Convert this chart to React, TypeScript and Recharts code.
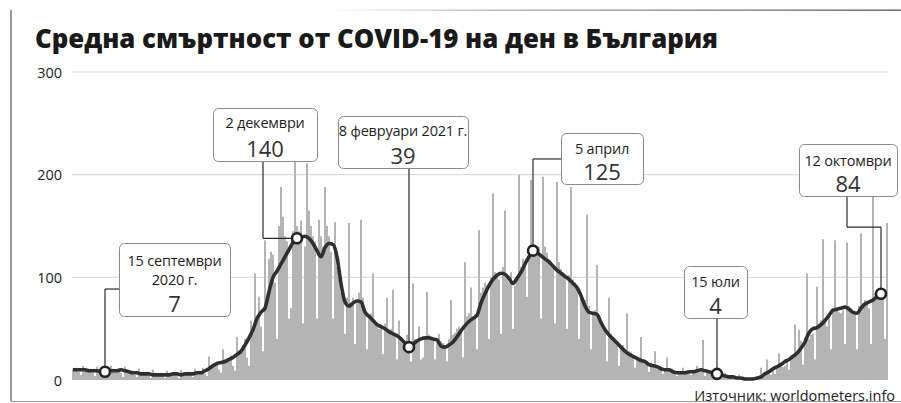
import React from 'react';
import {
  ComposedChart,
  Bar,
  Line,
  XAxis,
  YAxis,
  CartesianGrid,
  ReferenceDot,
  ReferenceLine,
} from 'recharts';

// Daily deaths (bars), read week by week from the picture
const deathsAutumn = [
  11, 9, 12, 8, 5, 14, 10,
  10, 8, 11, 7, 4, 13, 9,
  9, 10, 8, 6, 4, 14, 11,
  10, 9, 11, 7, 3, 13, 10,
  8, 7, 9, 5, 3, 11, 8,
  7, 6, 8, 4, 2, 10, 7,
  6, 5, 7, 4, 2, 9, 6,
  6, 7, 5, 4, 2, 10, 7,
  7, 6, 8, 5, 3, 11, 8,
  9, 8, 12, 6, 4, 23, 13,
  14, 16, 18, 10, 7, 30, 20,
  20, 22, 24, 14, 9, 42, 28,
  30, 34, 40, 22, 14, 58, 45,
];
const deathsWinter = [
  104, 58, 81, 52, 28, 136, 72,
  118, 125, 122, 95, 40, 150, 188,
  159, 140, 135, 60, 70, 145, 217,
  150, 145, 155, 55, 130, 211, 165,
  150, 140, 135, 60, 156, 140, 130,
  188, 150, 140, 125, 60, 154, 110,
  100, 85, 80, 45, 80, 153, 75,
  80, 35, 75, 85, 156, 80, 70,
  30, 60, 65, 104, 58, 55, 50,
  52, 25, 55, 80, 48, 50, 88,
  45, 20, 58, 42, 40, 38, 44,
  30, 18, 94, 40, 38, 52, 20,
  22, 42, 86, 44, 40, 38, 20,
  40, 45, 38, 36, 32, 18, 40,
  78, 44, 46, 50, 52, 48, 22,
];
const deathsSpring = [
  115, 62, 65, 90, 60, 64, 30,
  146, 85, 90, 95, 92, 40, 100,
  182, 105, 100, 98, 45, 110, 165,
  100, 95, 105, 50, 92, 100, 200,
  110, 118, 115, 81, 120, 195, 125,
  128, 125, 130, 60, 198, 130, 124,
  118, 115, 112, 55, 193, 115, 108,
  105, 100, 50, 102, 188, 98, 95,
  90, 40, 85, 80, 78, 161, 72,
  30, 65, 68, 112, 60, 58, 55,
  50, 18, 80, 45, 42, 40, 38,
  14, 32, 34, 30, 65, 28, 27,
  24, 12, 22, 20, 42, 19, 18,
  16, 8, 17, 15, 28, 14, 13,
  12, 6, 11, 22, 10, 10, 9,
];
const deathsSummerAutumn = [
  8, 4, 8, 7, 12, 7, 6,
  9, 5, 10, 8, 14, 9, 8,
  39, 4, 9, 7, 8, 6, 7,
  5, 2, 4, 3, 7, 4, 3,
  3, 1, 3, 2, 5, 2, 2,
  2, 1, 2, 1, 3, 1, 2,
  3, 12, 4, 5, 20, 6, 5,
  10, 6, 14, 26, 15, 13, 14,
  20, 10, 24, 22, 54, 25, 49,
  38, 15, 42, 104, 40, 44, 45,
  20, 91, 55, 58, 137, 56, 52,
  62, 30, 68, 136, 70, 66, 65,
  68, 35, 134, 72, 70, 65, 64,
  30, 72, 143, 75, 78, 76, 70,
  35, 183, 85, 88, 84, 80, 86,
  40, 153,
];
const deaths = [...deathsAutumn, ...deathsWinter, ...deathsSpring, ...deathsSummerAutumn];

// 7-day average, read every second day
const avg7 = [
  10, 10, 10, 10, 9, 9, 9, 8, 8, 9,
  9, 9, 10, 9, 8, 7, 7, 6, 6, 6,
  5, 5, 5, 5, 5, 6, 6, 5, 6, 6,
  6, 7, 7, 9, 11, 14, 16, 17, 18, 20,
  22, 25, 28, 34, 41, 49, 60, 66, 70, 86,
  100, 106, 113, 120, 127, 134, 138, 139, 140, 138,
  133, 126, 120, 129, 133, 132, 120, 94, 76, 72,
  75, 77, 76, 66, 62, 58, 54, 52, 50, 47,
  45, 43, 40, 36, 32, 35, 38, 40, 41, 41,
  40, 39, 33, 32, 34, 37, 42, 48, 53, 57,
  60, 63, 75, 84, 92, 98, 102, 104, 103, 99,
  94, 99, 105, 113, 120, 126, 124, 121, 118, 115,
  111, 107, 104, 101, 98, 94, 90, 82, 72, 66,
  65, 64, 56, 49, 44, 40, 36, 32, 28, 25,
  23, 21, 19, 18, 15, 14, 13, 11, 10, 10,
  8, 7, 7, 7, 8, 8, 9, 10, 9, 8,
  7, 6, 5, 4, 3, 3, 2, 2, 1, 1,
  1, 2, 3, 6, 8, 11, 13, 15, 18, 20,
  23, 26, 31, 37, 46, 50, 51, 54, 58, 63,
  68, 69, 70, 71, 69, 66, 65, 70, 74, 76,
  78, 81, 84, 85,
];

const yTicks = [0, 100, 200, 300];
const gridValues = [100, 200, 300];

// Highlighted days (day index, value on the average line)
const markDays = [16, 112, 168, 230, 322, 404];
const markValues = [8, 138, 32, 126, 6, 84];
const markDates = [
  ['15 септември', '2020 г.'],
  ['2 декември'],
  ['8 февруари 2021 г.'],
  ['5 април'],
  ['15 юли'],
  ['12 октомври'],
];
const markLabels = ['7', '140', '39', '125', '4', '84'];

// Leader lines in data coordinates (day, value)
const leaders: [number, number][][] = [
  [[16, 8], [16, 88.6], [23, 88.6]],
  [[95, 213.3], [95, 138], [112, 138]],
  [[168, 32], [168, 206.5]],
  [[230, 126], [230, 215.3], [244, 215.3]],
  [[322, 6], [322, 60.4]],
  [[387, 179.2], [387, 149], [404, 149], [404, 84]],
];

// Annotation box layout (pixels)
const boxes = [
  { x: 119, y: 243, w: 111, h: 73, pad: 17 },
  { x: 213, y: 108, w: 104, h: 53, pad: 14 },
  { x: 338, y: 116, w: 130, h: 52, pad: 14 },
  { x: 561, y: 133, w: 82, h: 51, pad: 15 },
  { x: 684, y: 266, w: 63, h: 52, pad: 15 },
  { x: 799, y: 144, w: 98, h: 52, pad: 16 },
];

const data = deaths.map((d, i) => ({
  day: i,
  deaths: d,
  avg: i % 2 === 0 && i / 2 < avg7.length ? avg7[i / 2] : null,
}));

const FONT = '"Open Sans", "Noto Sans", sans-serif';

const YTick = (props: any) => {
  const { y, payload } = props;
  return (
    <text x={62} y={y} textAnchor="end" dominantBaseline="central" fontSize={14.5} fill="#222" fontFamily={FONT}>
      {payload.value}
    </text>
  );
};

export default function App() {
  const segs: { a: [number, number]; b: [number, number]; key: string }[] = [];
  leaders.forEach((pts, li) => {
    for (let j = 0; j < pts.length - 1; j++) {
      segs.push({ a: pts[j], b: pts[j + 1], key: `l${li}-${j}` });
    }
  });

  return (
    <div style={{ position: 'absolute', left: 0, top: 0, width: 901, height: 403, background: '#fff', overflow: 'hidden' }}>
      <div style={{ position: 'absolute', left: 0, top: 0 }}>
        <ComposedChart
          width={901}
          height={403}
          data={data}
          margin={{ top: 72, right: 13, bottom: 23, left: 12 }}
          barCategoryGap={0}
          barGap={0}
        >
          <CartesianGrid horizontal vertical={false} horizontalValues={gridValues} stroke="#d6d6d6" strokeWidth={1} />
          <XAxis dataKey="day" type="category" hide />
          <YAxis
            domain={[0, 300]}
            ticks={yTicks}
            axisLine={false}
            tickLine={false}
            width={60}
            tick={<YTick />}
            interval={0}
          />
          <Bar dataKey="deaths" fill="#b4b4b4" isAnimationActive={false} />
          <Line
            dataKey="avg"
            type="monotone"
            stroke="#2f2f2f"
            strokeWidth={3.6}
            dot={false}
            activeDot={false}
            connectNulls
            isAnimationActive={false}
          />
          {segs.map((s) => (
            <ReferenceLine
              key={s.key}
              segment={[{ x: s.a[0], y: s.a[1] }, { x: s.b[0], y: s.b[1] }]}
              stroke="#2a2a2a"
              strokeWidth={1.2}
            />
          ))}
          {markDays.map((d, i) => (
            <ReferenceDot key={`d${i}`} x={d} y={markValues[i]} r={5} fill="#fff" stroke="#222" strokeWidth={2.6} />
          ))}
        </ComposedChart>
      </div>
      <svg width={901} height={403} style={{ position: 'absolute', left: 0, top: 0, pointerEvents: 'none' }}>
        <defs>
          <linearGradient id="topline" x1="0" x2="1" y1="0" y2="0">
            <stop offset="0" stopColor="#ffffff" />
            <stop offset="0.3" stopColor="#b0b0b0" />
            <stop offset="1" stopColor="#555" />
          </linearGradient>
        </defs>
        <line x1={11} y1={10} x2={11} y2={401} stroke="#555" strokeWidth={1.2} />
        <rect x={330} y={9.5} width={571} height={1.3} fill="url(#topline)" />
        <line x1={11} y1={401.5} x2={901} y2={401.5} stroke="#9a9a9a" strokeWidth={1} />
        <text
          x={35}
          y={48}
          lang="bg"
          fontFamily={FONT}
          fontWeight={800}
          fontSize={27}
          fill="#1a1a1a"
          textLength={683}
          lengthAdjust="spacingAndGlyphs"
        >
          Средна смъртност от COVID-19 на ден в България
        </text>
        <text x={895} y={395} textAnchor="end" dominantBaseline="central" fontFamily={FONT} fontSize={14.5} fill="#222">
          Източник: worldometers.info
        </text>
        {boxes.map((b, i) => (
          <g key={`b${i}`}>
            <rect x={b.x + 0.5} y={b.y + 0.5} width={b.w} height={b.h} rx={5} ry={5} fill="#fff" stroke="#8a8a8a" strokeWidth={1} />
            {markDates[i].map((t, j) => (
              <text
                key={j}
                x={b.x + b.w / 2}
                y={b.y + b.pad + j * 19}
                textAnchor="middle"
                dominantBaseline="central"
                fontFamily={FONT}
                fontSize={14.5}
                letterSpacing={-0.2}
                fill="#1e1e1e"
              >
                {t}
              </text>
            ))}
            <text
              x={b.x + b.w / 2}
              y={b.y + b.h - 13}
              textAnchor="middle"
              dominantBaseline="central"
              fontFamily={FONT}
              fontSize={22}
              fill="#333"
            >
              {markLabels[i]}
            </text>
          </g>
        ))}
      </svg>
    </div>
  );
}
